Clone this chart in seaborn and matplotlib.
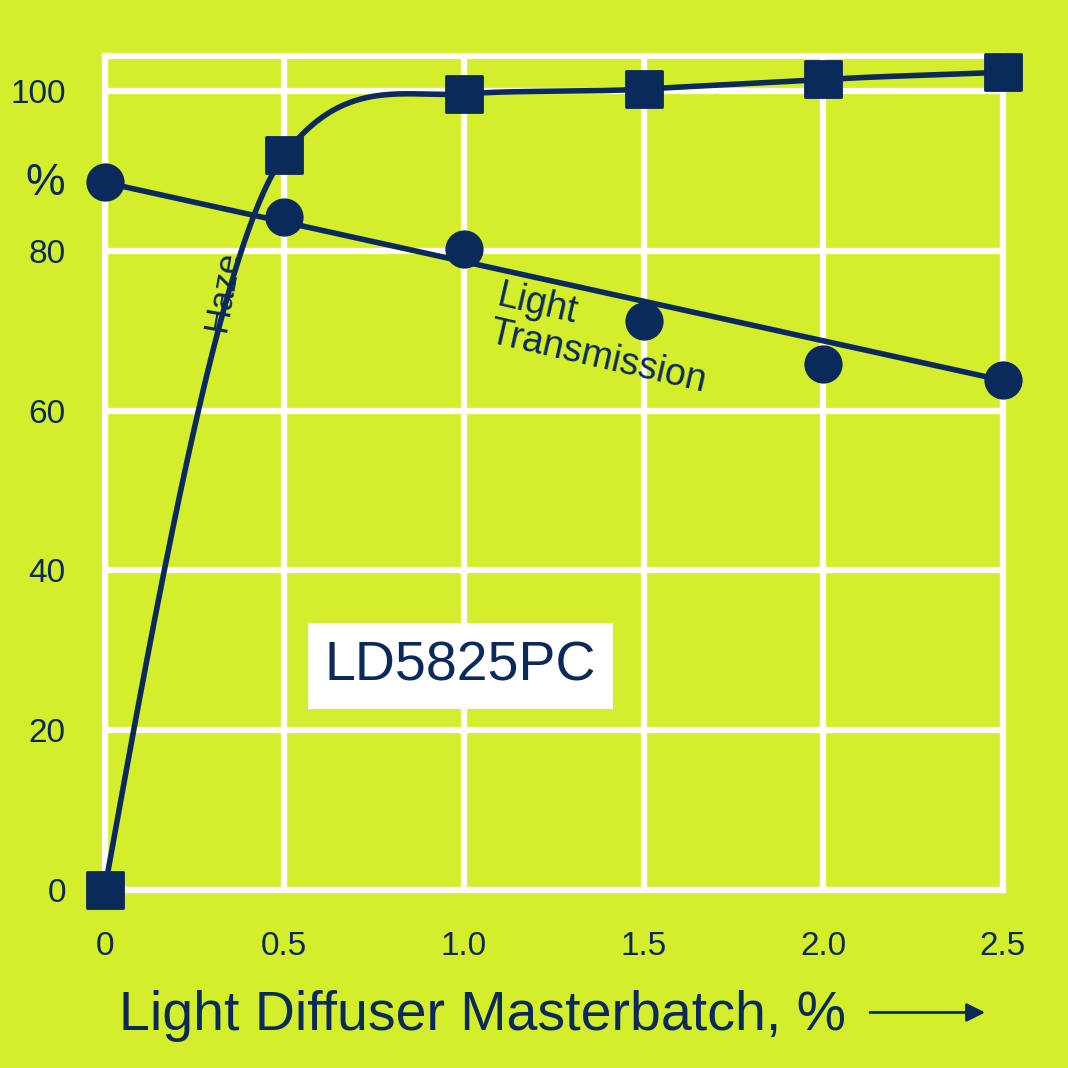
import numpy as np
import pandas as pd
import seaborn as sns
import matplotlib.pyplot as plt
from matplotlib.patches import FancyArrowPatch

# values
masterbatch = [0.0, 0.5, 1.0, 1.5, 2.0, 2.5]
haze = [0.0, 92.0, 99.7, 100.3, 101.5, 102.4]
transmission = [88.6, 84.3, 80.3, 71.3, 65.9, 63.8]
# end slopes of the hand-drawn haze curve
haze_slopes = [250, 60, 3, 2.5, 2.5, 1.8]

BG = '#d5ee2c'
NAVY = '#0b2a5c'


def hermite(x, y, m, xs):
    # smooth curve through the haze points
    x = np.asarray(x, float)
    y = np.asarray(y, float)
    m = np.asarray(m, float)
    h = np.diff(x)
    idx = np.clip(np.searchsorted(x, xs) - 1, 0, len(x) - 2)
    t = (xs - x[idx]) / h[idx]
    h00 = 2 * t**3 - 3 * t**2 + 1
    h10 = t**3 - 2 * t**2 + t
    h01 = -2 * t**3 + 3 * t**2
    h11 = t**3 - t**2
    return h00 * y[idx] + h10 * h[idx] * m[idx] + h01 * y[idx + 1] + h11 * h[idx] * m[idx + 1]


df = pd.DataFrame({'x': masterbatch, 'haze': haze, 'lt': transmission})

sns.set_style('white')
plt.rcParams['font.family'] = ['Liberation Sans', 'DejaVu Sans']
fig = plt.figure(figsize=(10.68, 10.68), dpi=100, facecolor=BG)
ax = fig.add_axes([0.098, 0.167, 0.841, 0.781], facecolor=BG)

xs = np.linspace(0, 2.5, 500)
ax.plot(xs, hermite(masterbatch, haze, haze_slopes, xs), color=NAVY, lw=4, zorder=3)
ax.plot([masterbatch[0], masterbatch[-1]], [transmission[0], transmission[-1]],
        color=NAVY, lw=4, zorder=3)
sns.scatterplot(data=df, x='x', y='haze', marker='s', s=650, color=NAVY,
                edgecolor=NAVY, ax=ax, zorder=4, clip_on=False)
sns.scatterplot(data=df, x='x', y='lt', marker='o', s=650, color=NAVY,
                edgecolor=NAVY, ax=ax, zorder=4, clip_on=False)

ax.set_xlim(0, 2.5)
ax.set_ylim(0, 104.5)
ax.set_xticks([0, 0.5, 1.0, 1.5, 2.0, 2.5])
ax.set_xticklabels(['0', '0.5', '1.0', '1.5', '2.0', '2.5'])
ax.set_yticks([0, 20, 40, 60, 80, 100])
ax.grid(True, color='white', lw=4.5, zorder=1)
for s in ax.spines.values():
    s.set_color('white')
    s.set_linewidth(4.5)
ax.tick_params(length=0, labelsize=24, labelcolor=NAVY)
ax.tick_params(axis='x', pad=30)
ax.tick_params(axis='y', pad=28)
ax.set_xlabel('')
ax.set_ylabel('')

ax.text(-0.165, 88.5, '%', fontsize=32, color=NAVY, ha='center', va='center')
ax.text(0.33, 75, 'Haze', fontsize=25, color=NAVY, rotation=80, ha='center', va='center')
ax.text(1.06, 69, 'Light\nTransmission', fontsize=27, color=NAVY,
        rotation=-13, ha='left', va='center', linespacing=1.05)
ax.text(0.99, 28, 'LD5825PC', fontsize=40, color=NAVY, ha='center', va='center',
        bbox=dict(facecolor='white', edgecolor='none', pad=12))

fig.text(0.452, 0.049, 'Light Diffuser Masterbatch, %', fontsize=40,
         color=NAVY, ha='center', va='center')
fig.add_artist(FancyArrowPatch(
    (0.812, 0.052), (0.925, 0.052), transform=fig.transFigure,
    arrowstyle='-|>', mutation_scale=28, color=NAVY, lw=2))

fig.savefig('out.png', dpi=100, facecolor=BG)
